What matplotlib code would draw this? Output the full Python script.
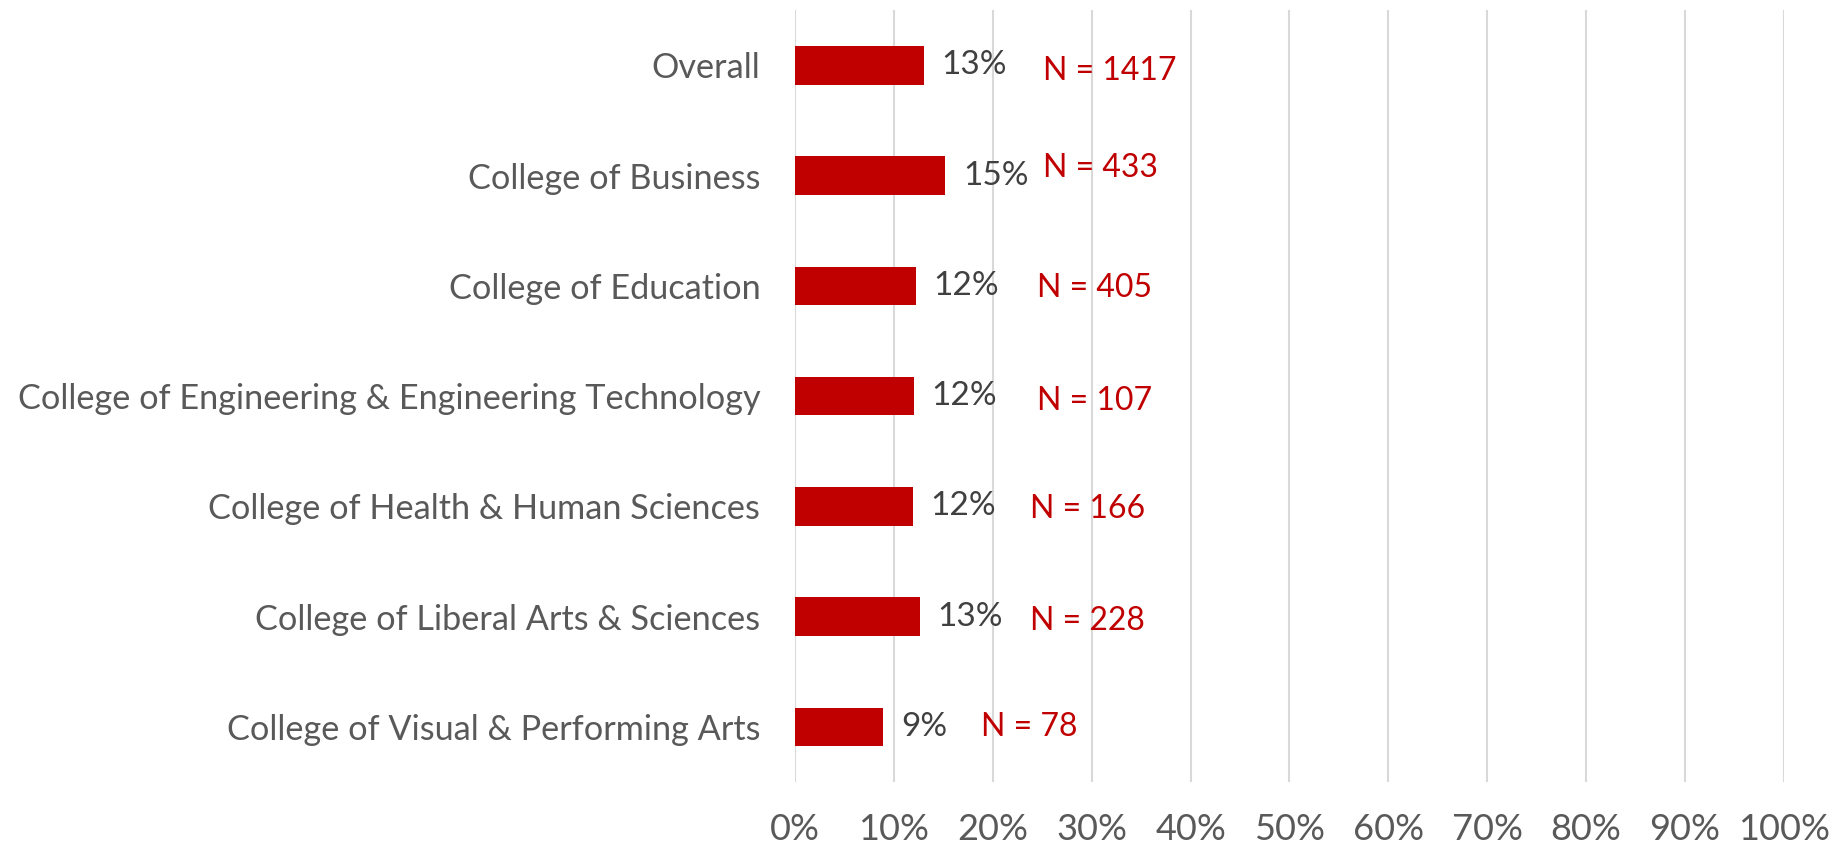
import matplotlib
matplotlib.use("Agg")
from matplotlib import pyplot as plt

colleges = ["Overall",
            "College of Business",
            "College of Education",
            "College of Engineering & Engineering Technology",
            "College of Health & Human Sciences",
            "College of Liberal Arts & Sciences",
            "College of Visual & Performing Arts"]
pct = [13.0, 15.2, 12.2, 12.0, 11.9, 12.6, 8.9]
pct_labels = ["13%", "15%", "12%", "12%", "12%", "13%", "9%"]
n_labels = ["N = 1417", "N = 433", "N = 405", "N = 107", "N = 166", "N = 228", "N = 78"]
# hand placed text boxes in the original (x in %, y offset in rows)
n_x = [25.1, 25.1, 24.5, 24.5, 23.8, 23.8, 18.8]
n_dy = [0.05, -0.07, 0.02, 0.04, 0.02, 0.04, 0.0]
xticks = list(range(0, 101, 10))

plt.rcParams['font.family'] = ['Lato', 'DejaVu Sans']

fig = plt.figure(figsize=(18.42, 8.47), dpi=100)
ax = fig.add_axes([0.4316, 0.0767, 0.5369, 0.9113])

ypos = list(range(len(colleges)))
ax.barh(ypos, pct, height=0.35, color="#C00000", zorder=3)

for i in ypos:
    ax.text(pct[i] + 1.8, i, pct_labels[i], va="center", ha="left",
            fontsize=24, color="#404040", zorder=4)
    ax.text(n_x[i], i + n_dy[i], n_labels[i], va="center", ha="left",
            fontsize=23, color="#C00000", zorder=4)

ax.set_xlim(0, 100)
ax.set_ylim(len(colleges) - 0.5, -0.5)
ax.set_xticks(xticks)
ax.set_xticklabels([f"{t}%" for t in xticks])
ax.set_yticks(ypos)
ax.set_yticklabels(colleges)
ax.tick_params(axis="both", length=0, labelcolor="#595959")
ax.tick_params(axis="y", pad=25, labelsize=24.7)
ax.tick_params(axis="x", pad=22, labelsize=26)
ax.grid(axis="x", color="#D9D9D9", linewidth=1.5, zorder=0)
for s in ax.spines.values():
    s.set_visible(False)

fig.savefig("out.png", dpi=100)
